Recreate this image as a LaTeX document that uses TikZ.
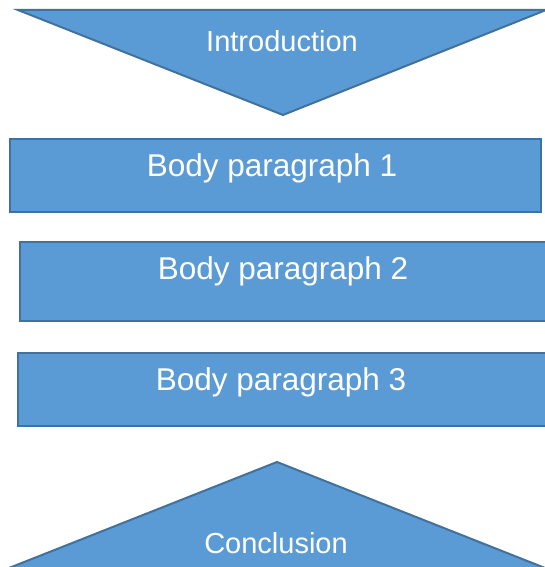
\documentclass[tikz,border=0pt]{standalone}
\usepackage{fontspec}
\setmainfont{Liberation Sans}
\definecolor{fillblue}{HTML}{5B9BD5}
\definecolor{edgeblue}{HTML}{41719C}
\begin{document}
\begin{tikzpicture}[x=1pt,y=-1pt,
  shapestyle/.style={fill=fillblue,draw=edgeblue,line width=2pt,line join=miter},
  label/.style={text=white,inner sep=0pt,anchor=center}]
\useasboundingbox (0,0) rectangle (545,567);
\clip (0,0) rectangle (545,567);
% introduction triangle
\path[shapestyle] (18,10) -- (546,10) -- (283,115) -- cycle;
\node[label,font=\fontsize{29}{32}\selectfont] (intro) at (282,41) {Introduction};
% body boxes
\path[shapestyle] (9.5,138.5) rectangle (540.5,211.5);
\node[label,font=\fontsize{31.5}{34}\selectfont] (b1) at (272,168) {Body paragraph 1};
\path[shapestyle] (20,241.5) rectangle (550,320.5);
\node[label,font=\fontsize{31.5}{34}\selectfont] (b2) at (283,271) {Body paragraph 2};
\path[shapestyle] (17.5,352.5) rectangle (550,425.5);
\node[label,font=\fontsize{31.5}{34}\selectfont] (b3) at (281,382) {Body paragraph 3};
% conclusion triangle
\path[shapestyle] (277,462) -- (545,568) -- (9,568) -- cycle;
\node[label,font=\fontsize{29}{32}\selectfont] (concl) at (276,543) {Conclusion};
\end{tikzpicture}
\end{document}
